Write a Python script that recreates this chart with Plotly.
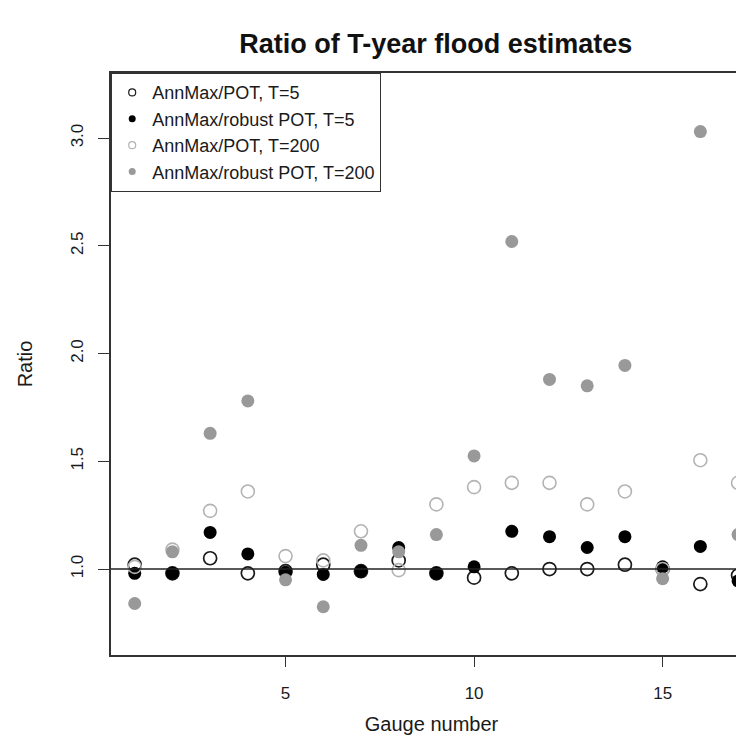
import plotly.graph_objects as go

gauges = list(range(1, 18))
# AnnMax/POT, T=5 (open black)
pot_t5 = [1.02, 0.98, 1.05, 0.98, 0.99, 1.02, 0.99, 1.04, 0.98, 0.96, 0.98, 1.00, 1.00, 1.02, 1.00, 0.93, 0.97]
# AnnMax/robust POT, T=5 (filled black)
rob_t5 = [0.98, 0.98, 1.17, 1.07, 0.985, 0.975, 0.99, 1.10, 0.98, 1.01, 1.175, 1.15, 1.10, 1.15, 1.01, 1.105, 0.945]
# AnnMax/POT, T=200 (open grey)
pot_t200 = [1.01, 1.09, 1.27, 1.36, 1.06, 1.04, 1.175, 0.995, 1.30, 1.38, 1.40, 1.40, 1.30, 1.36, 1.00, 1.505, 1.40]
# AnnMax/robust POT, T=200 (filled grey)
rob_t200 = [0.84, 1.08, 1.63, 1.78, 0.95, 0.825, 1.11, 1.08, 1.16, 1.525, 2.52, 1.88, 1.85, 1.945, 0.955, 3.03, 1.16]

names = ["AnnMax/POT, T=5", "AnnMax/robust POT, T=5", "AnnMax/POT, T=200", "AnnMax/robust POT, T=200"]
series = [pot_t5, rob_t5, pot_t200, rob_t200]
styles = [
    dict(symbol="circle-open", color="#1a1a1a", line=dict(color="#1a1a1a", width=1.7)),
    dict(symbol="circle", color="#000000", line=dict(width=0)),
    dict(symbol="circle-open", color="#b3b3b3", line=dict(color="#b3b3b3", width=1.6)),
    dict(symbol="circle", color="#999999", line=dict(width=0)),
]

fig = go.Figure()
for name, vals, st in zip(names, series, styles):
    fig.add_trace(go.Scatter(x=gauges, y=vals, mode="markers", name=name, showlegend=False,
                             marker=dict(size=13, **st), cliponaxis=False))
for name, st in zip(names, styles):
    st2 = dict(st)
    if "open" in st2["symbol"]:
        st2["line"] = dict(color=st2["color"], width=1.2)
    fig.add_trace(go.Scatter(x=[None], y=[None], mode="markers", name=name, showlegend=True,
                             marker=dict(size=7, **st2)))

fig.add_shape(type="line", xref="paper", x0=0, x1=1, yref="y", y0=1, y1=1,
              line=dict(color="#222222", width=1.6))

font_family = "Liberation Sans, Arial, sans-serif"
fig.update_layout(
    width=744, height=740,
    margin=dict(l=103, r=0, t=65, b=93),
    paper_bgcolor="white", plot_bgcolor="white",
    font=dict(family=font_family, color="#1a1a1a", size=16),
    title=dict(text="<b>Ratio of T-year flood estimates</b>", x=0.575, xanchor="center",
               y=0.952, yanchor="middle", font=dict(size=27, family=font_family, color="#111")),
    showlegend=True,
    legend=dict(x=0, y=1, xanchor="left", yanchor="top", bgcolor="white",
                bordercolor="#333333", borderwidth=1.2, font=dict(size=18),
                itemsizing="trace", tracegroupgap=0),
    xaxis=dict(range=[0.371, 17.37], tickvals=[5, 10, 15], showgrid=False, zeroline=False,
               showline=True, mirror=True, linecolor="#333333", linewidth=1.5,
               ticks="outside", ticklen=10, tickcolor="#333333", ticklabelstandoff=12,
               tickfont=dict(size=17),
               title=dict(text="Gauge number", font=dict(size=20), standoff=15)),
    yaxis=dict(range=[0.601, 3.302], tickvals=[1.0, 1.5, 2.0, 2.5, 3.0], tickformat=".1f",
               tickangle=-90, showgrid=False, zeroline=False,
               showline=True, mirror=False, linecolor="#333333", linewidth=1.5,
               ticks="outside", ticklen=11, tickcolor="#333333", ticklabelstandoff=8,
               tickfont=dict(size=17),
               title=dict(text="Ratio", font=dict(size=20), standoff=30)),
)

fig.write_html("out.html")
